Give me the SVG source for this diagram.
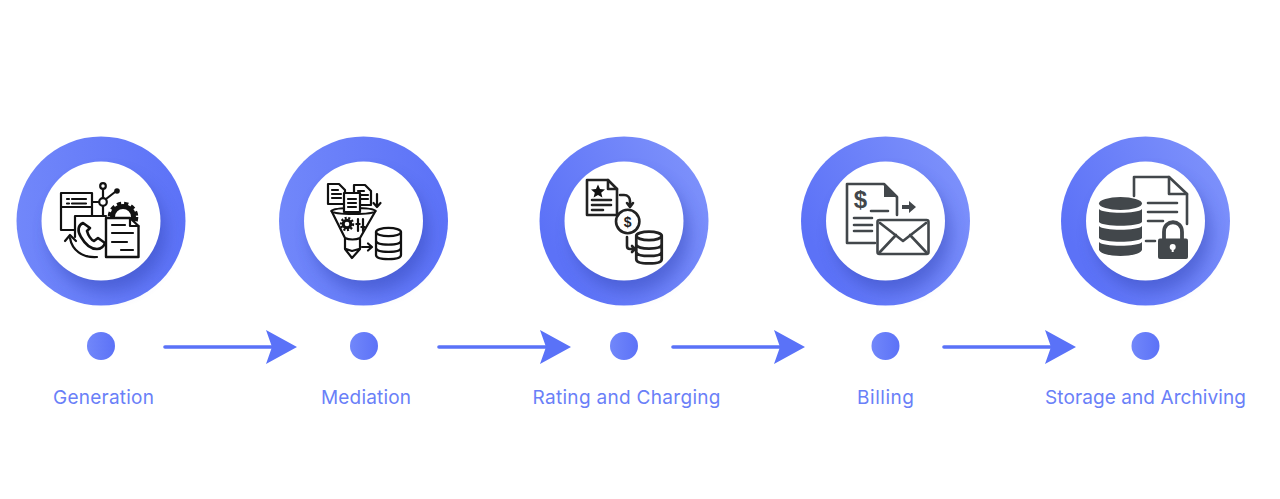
<svg xmlns="http://www.w3.org/2000/svg" width="1280" height="499" viewBox="0 0 1280 499">
<defs>
<linearGradient id="gL" x1="0" y1="0" x2="1" y2="0"><stop offset="0" stop-color="#7187fa"/><stop offset="1" stop-color="#5c72f7"/></linearGradient>
<linearGradient id="gR" x1="0.1" y1="0.7" x2="0.95" y2="0.25"><stop offset="0" stop-color="#5c72f7"/><stop offset="1" stop-color="#7c90fb"/></linearGradient>
<filter id="sh" x="-40%" y="-40%" width="180%" height="180%"><feGaussianBlur stdDeviation="8"/></filter>
<g id="db"><ellipse cx="0" cy="-11" rx="12" ry="4"/><path d="M-12-11V11C-12 14 -6 15 0 15S12 14 12 11V-11M-12-3C-12 0-6 1 0 1S12 0 12-3M-12 4C-12 7-6 8 0 8S12 7 12 4"/></g>
<marker id="ah" markerUnits="userSpaceOnUse" markerWidth="34" markerHeight="36" refX="8" refY="18" orient="auto"><path d="M2 1L33 18L2 35L8 18Z" fill="#5a72f8"/></marker>
</defs>
<style>
.ring{fill:url(#gL)}
.ringR{fill:url(#gR)}
.inner{fill:#fff}
.shadow{fill:#2c3dab;opacity:.42;filter:url(#sh)}
.dot{fill:url(#gL)}
.lbl{font-family:"Inter","Open Sans",sans-serif;font-size:19px;fill:#6a80f8;text-anchor:middle}
.ic{fill:none;stroke:#111;stroke-width:2.200;stroke-linejoin:round;stroke-linecap:round}
.id{fill:none;stroke:#42474b;stroke-width:2.600;stroke-linejoin:round;stroke-linecap:round}
.f1{fill:#111;stroke:none}
.f2{fill:#42474b;stroke:none}
.conn{stroke:#5a72f8;stroke-width:3.600;stroke-linecap:round;fill:none;marker-end:url(#ah)}
</style>
<rect width="1280" height="499" fill="#fff"/>
<g id="connectors">
<path class="conn" d="M165 347H272"/>
<path class="conn" d="M439 347H546"/>
<path class="conn" d="M673 347H780"/>
<path class="conn" d="M944 347H1051"/>
</g>
<g id="node-generation">
<circle class="ring" cx="101" cy="221" r="84.500"/>
<circle class="shadow" cx="107" cy="233" r="59"/>
<circle class="inner" cx="101" cy="221" r="59.500"/>
<g class="ic">
<path d="M75 230H61V193H92V216"/><path d="M61 207H92M67 199H69M72 199H86M67 203.500H69M72 203.500H86"/>
<path d="M75 237V216H106"/>
<circle cx="103" cy="202" r="3.800"/><circle cx="103" cy="186" r="2.800"/>
<path d="M92 202H99M103 189V198M103 206V216M106 199L115 192"/>
<path d="M83 223C78 225 77 231 81 237C85 244 91 249 97 249C101 249 104 246 105 243L98 238L94 241C91 240 88 235 87 231L90 228Z" stroke-width="2.600"/>
<path d="M70 238C72 250 82 258 97 257"/><path d="M65 241L70 235L76 241"/>
</g>
<circle class="f1" cx="117" cy="191" r="2.800"/>
<circle cx="123" cy="217" r="13.600" fill="none" stroke="#111" stroke-width="3.400" stroke-dasharray="4.200 3"/>
<circle cx="123" cy="217" r="10.500" fill="none" stroke="#111" stroke-width="5"/>
<path d="M106 218H130L138.500 226V257H106Z" fill="#fff" stroke="#111" stroke-width="2.400" stroke-linejoin="round"/>
<path class="ic" d="M130 218V226H138.500M112 225H125M112 233H133M112 242H127M121 250H133"/>
</g>
<g id="node-mediation">
<circle class="ring" cx="363.500" cy="221" r="84.500"/>
<circle class="shadow" cx="369.500" cy="233" r="59"/>
<circle class="inner" cx="363.500" cy="221" r="59.500"/>
<g class="ic">
<path d="M331.500 211C334 207 373 207 375.500 211C373 215 334 215 331.500 211Z"/>
<path d="M331.500 211L345 238V249L352 258L360 249V238L375.500 211M345 238C349 240 356 240 360 238M346 249L352 251L359 249"/>
<path d="M328 184H339L345 190V204H328Z" fill="#fff"/><path d="M332 190H338M332 194H341M332 198H341"/>
<path d="M354 185H365L371 191V205H354Z" fill="#fff"/><path d="M358 191H364M358 195H368M358 199H368"/>
<path d="M344 193H360V212H344Z" fill="#fff"/><path d="M348 199H356M348 203H356M348 207H356"/>
<path d="M377 194V206M373.500 203L377 207L380.500 203"/>
<path d="M358 219V231M363 219V231"/>
<path d="M362 247H371M368 243.500L372 247L368 250.500"/>
<use href="#db" transform="translate(388.500 243.500) scale(1.04)"/>
</g>
<circle cx="347" cy="224" r="6" fill="none" stroke="#111" stroke-width="2.400" stroke-dasharray="2 1.600"/>
<circle cx="347" cy="224" r="3.800" fill="none" stroke="#111" stroke-width="3"/>
<path class="f1" d="M355.500 223h5v2h-5zM360.500 226h5v2h-5z"/>
</g>
<g id="node-rating">
<circle class="ringR" cx="624" cy="221" r="84.500"/>
<circle class="shadow" cx="630" cy="233" r="59"/>
<circle class="inner" cx="624" cy="221" r="59.500"/>
<g class="id" style="stroke:#222">
<path d="M587 180H608L617 189V215H587Z"/><path d="M608 180V189H617"/>
<path d="M592 200H611M592 205H611M592 210H603"/>
<path d="M620 195H624C628 195 630 198 630 201V206M627 203L630 207L633 203"/>
<circle cx="627.700" cy="221.500" r="11.700"/>
<path d="M627 237V246C627 248 628 249 630 249H634M632 246L635 249L632 252"/>
<use href="#db" transform="translate(649 247.500) scale(1.06)"/>
</g>
<path class="f1" d="M598 184.500L600 189L605 189.500L601.200 192.800L602.400 197.500L598 195L593.600 197.500L594.800 192.800L591 189.500L596 189Z"/>
<text x="627.700" y="226.500" font-family="'Liberation Sans',sans-serif" font-weight="bold" font-size="14" text-anchor="middle" fill="#222">$</text>
</g>
<g id="node-billing">
<circle class="ringR" cx="885.500" cy="221" r="84.500"/>
<circle class="shadow" cx="891.500" cy="233" r="59"/>
<circle class="inner" cx="885.500" cy="221" r="59.500"/>
<g class="id">
<path d="M875 243H847V184H884L897 197V215"/>
<path d="M871 211H888M854 218H872M854 225H872M854 231H872"/>
<rect x="877.500" y="220" width="51" height="34" rx="2"/>
<path d="M880 223L903 241L926 223M880 252L896 235M926 252L910 235"/>
</g>
<path class="f2" d="M884 184L897 197H884Z"/>
<path class="f2" d="M902 205H909V201L916 207L909 213V209H902Z"/>
<text x="860.500" y="208" font-family="'Liberation Sans',sans-serif" font-weight="bold" font-size="24" text-anchor="middle" fill="#42474b">$</text>
</g>
<g id="node-storage">
<circle class="ringR" cx="1145.500" cy="221" r="84.500"/>
<circle class="shadow" cx="1151.500" cy="233" r="59"/>
<circle class="inner" cx="1145.500" cy="221" r="59.500"/>
<g class="id">
<path d="M1134 196V177H1169L1187 194V224"/><path d="M1169 177V194H1187"/>
<path d="M1148 203H1177M1148 212H1177M1148 221H1163M1146 241H1155"/>
</g>
<g class="f2">
<ellipse cx="1120.500" cy="203.500" rx="21.500" ry="6.500"/>
<path d="M1099 209C1103 214 1138 214 1142 209V222C1138 227 1103 227 1099 222Z"/>
<path d="M1099 226C1103 231 1138 231 1142 226V238C1138 243 1103 243 1099 238Z"/>
<path d="M1099 242C1103 247 1138 247 1142 242V250C1138 258 1103 258 1099 250Z"/>
<rect x="1158" y="238.500" width="30" height="20.500" rx="2"/>
</g>
<path d="M1164 239V232C1164 219 1182 219 1182 232V239" fill="none" stroke="#42474b" stroke-width="3.800"/>
<circle cx="1172.700" cy="247" r="3" fill="#fff"/><path d="M1171.700 248h2v4h-2z" fill="#fff"/>
</g>
<g id="dots">
<circle class="dot" cx="101" cy="346" r="14"/>
<circle class="dot" cx="364" cy="346" r="14"/>
<circle class="dot" cx="624" cy="346" r="14"/>
<circle class="dot" cx="885.500" cy="346" r="14"/>
<circle class="dot" cx="1145.500" cy="346" r="14"/>
</g>
<g id="labels">
<text class="lbl" x="103.500" y="404" textLength="101">Generation</text>
<text class="lbl" x="366" y="404" textLength="90">Mediation</text>
<text class="lbl" x="626.500" y="404" textLength="188">Rating and Charging</text>
<text class="lbl" x="885.500" y="404" textLength="57">Billing</text>
<text class="lbl" x="1145.500" y="404" textLength="201">Storage and Archiving</text>
</g>
</svg>
